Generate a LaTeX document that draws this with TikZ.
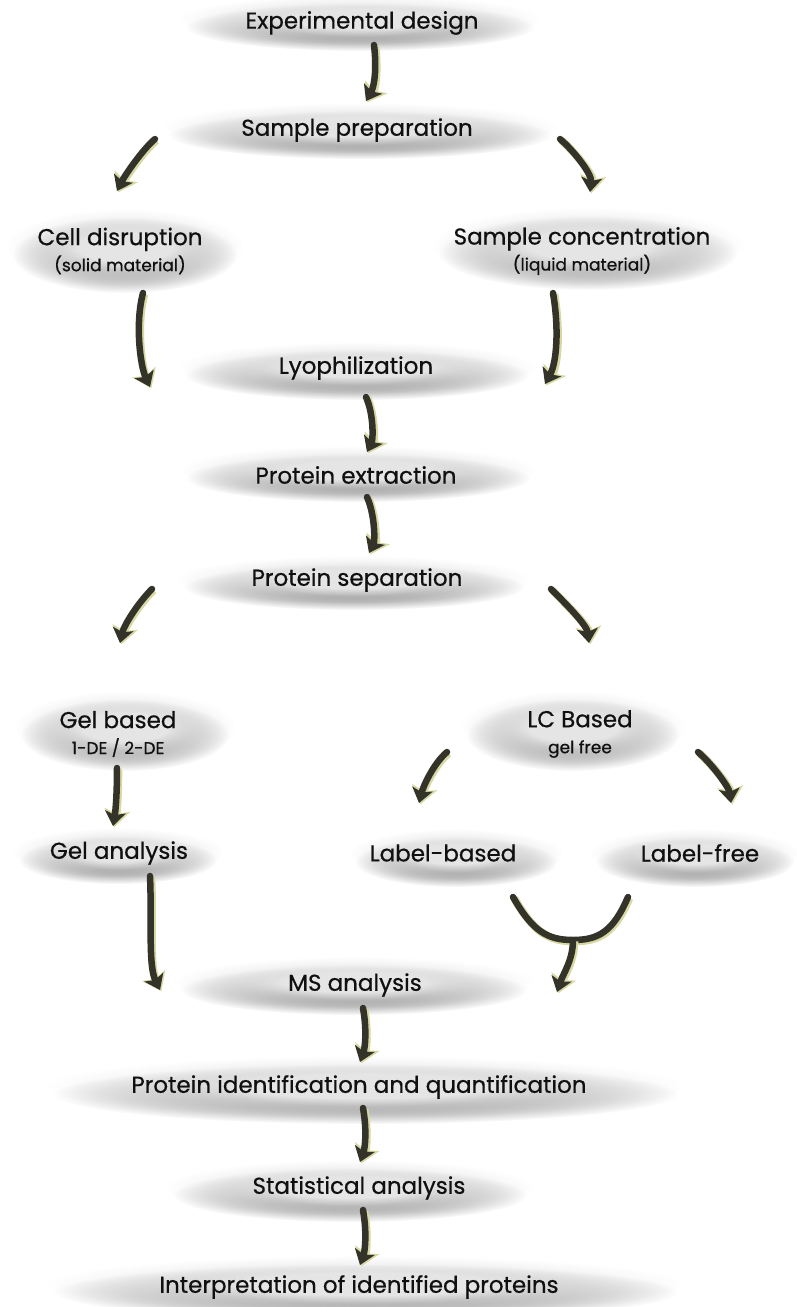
\documentclass[tikz,border=0pt]{standalone}
\usepackage{fontspec}
\setmainfont{Poppins}[FakeBold=0.6]
\usetikzlibrary{arrows.meta,fadings,calc,shapes.geometric}
\definecolor{arrcol}{HTML}{33332A}
\definecolor{glowcol}{HTML}{D8D8A2}
\definecolor{txtcol}{HTML}{101010}
\pgfdeclareradialshading{blobshade}{\pgfpointorigin}{color(0bp)=(pgftransparent!0); color(10bp)=(pgftransparent!0); color(25bp)=(pgftransparent!100); color(50bp)=(pgftransparent!100)}
\pgfdeclarefading{blobfade}{\pgfuseshading{blobshade}}
\tikzset{
  blobsh/.style={fill=black!45, path fading=blobfade},
  blobmn/.style={fill=black!10, path fading=blobfade},
  box/.style={shape=ellipse, inner sep=0pt, align=center, text=txtcol, font=\fontsize{23}{27}\selectfont},
  arrline/.style={draw=arrcol, line width=6.5pt, line cap=round,
    preaction={draw=glowcol, line width=8pt, transform canvas={xshift=1.3pt,yshift=-1.3pt}}},
  arr/.style={arrline, -{Stealth[length=0pt 2.2, width=0pt 3.2, inset=0pt 0.5]}},
}
\newcommand\myblob[4]{%
  \fill[blobsh] (#1,#2+7) ellipse [x radius=#3-6, y radius=#4];
  \fill[blobmn] (#1,#2-1) ellipse [x radius=#3, y radius=#4];}
\newcommand\sub[1]{\\[-1pt]{\fontsize{17}{20}\selectfont #1}}
\begin{document}
\begin{tikzpicture}[x=1pt,y=-1pt]
\fill[white] (0,0) rectangle (796,1307);
\useasboundingbox (0,0) rectangle (796,1307);
% background blobs
\myblob{360}{20}{180}{24}
\myblob{360}{128}{197}{24}
\myblob{125}{248}{118}{38}
\myblob{588}{246}{155}{37}
\myblob{357}{368}{178}{25}
\myblob{358}{471}{178}{24}
\myblob{354}{580}{176}{23}
\myblob{125}{728}{110}{36}
\myblob{573}{728}{112}{36}
\myblob{118}{853}{105}{24}
\myblob{456}{855}{107}{25}
\myblob{695}{855}{105}{25}
\myblob{354}{983}{179}{25}
\myblob{366}{1087}{318}{30}
\myblob{350}{1188}{183}{27}
\myblob{366}{1285}{318}{28}
% nodes
\node[box, minimum width=360, minimum height=48] (ed) at (362,23) {Experimental design};
\node[box, minimum width=394, minimum height=48] (sp) at (357,130) {Sample preparation};
\node[box, minimum width=236, minimum height=76] (cd) at (120,251) {Cell disruption\sub{(solid material)}};
\node[box, minimum width=310, minimum height=74] (sc) at (582,251) {Sample concentration\sub{(liquid material)}};
\node[box, minimum width=356, minimum height=50] (ly) at (356,368) {Lyophilization};
\node[box, minimum width=356, minimum height=48] (pe) at (356,475) {Protein extraction};
\node[box, minimum width=352, minimum height=46] (ps) at (357,580) {Protein separation};
\node[box, minimum width=220, minimum height=72] (gb) at (118,734) {Gel based\sub{1-DE / 2-DE}};
\node[box, minimum width=224, minimum height=72] (lc) at (580,734) {LC Based\sub{gel free}};
\node[box, minimum width=210, minimum height=48] (ga) at (119,853) {Gel analysis};
\node[box, minimum width=214, minimum height=50] (lb) at (443,853) {Label-based};
\node[box, minimum width=210, minimum height=50] (lf) at (700,853) {Label-free};
\node[box, minimum width=358, minimum height=50] (ms) at (355,985) {MS analysis};
\node[box, minimum width=636, minimum height=60] (pi) at (359,1087) {Protein identification and quantification};
\node[box, minimum width=366, minimum height=54] (sa) at (359,1188) {Statistical analysis};
\node[box, minimum width=636, minimum height=56] (ip) at (359,1287) {Interpretation of identified proteins};
% connectors
\draw[arr] ($(ed)+(12,22)$) .. controls +(3,25) and +(8,-14) .. ($(sp)+(9,-29)$);
\draw[arr] ($(sp)+(-202,9)$) .. controls +(-12,10) and +(8,-16) .. ($(cd)+(-3,-60)$);
\draw[arr] ($(sp)+(203,9)$) .. controls +(14,12) and +(2,-18) .. ($(sc)+(8,-59)$);
\draw[arr] ($(cd)+(23,42)$) .. controls +(-8,30) and +(-10,-22) .. ($(ly)+(-206,19)$);
\draw[arr] ($(sc)+(-29,42)$) .. controls +(6,35) and +(12,-22) .. ($(ly)+(189,16)$);
\draw[arr] ($(ly)+(10,29)$) .. controls +(8,18) and +(6,-12) .. ($(pe)+(11,-23)$);
\draw[arr] ($(pe)+(11,22)$) .. controls +(8,18) and +(6,-12) .. ($(ps)+(12,-27)$);
\draw[arr] ($(ps)+(-205,9)$) .. controls +(-14,14) and +(4,-18) .. ($(gb)+(2,-91)$);
\draw[arr] ($(ps)+(194,9)$) .. controls +(14,14) and +(-2,-18) .. ($(lc)+(9,-91)$);
\draw[arr] ($(gb)+(-1,34)$) .. controls +(0,22) and +(3,-18) .. ($(ga)+(-6,-27)$);
\draw[arr] ($(lc)+(-133,18)$) .. controls +(-14,12) and +(4,-16) .. ($(lb)+(-24,-50)$);
\draw[arr] ($(lc)+(118,18)$) .. controls +(14,12) and +(-2,-16) .. ($(lf)+(31,-50)$);
\draw[arr] ($(ga)+(31,23)$) .. controls +(2,45) and +(-12,-25) .. ($(ms)+(-195,5)$);
\coordinate (yj) at (573,940);
\draw[arrline] ($(lb)+(70,44)$) .. controls +(20,35) and +(-25,0) .. (yj) .. controls +(25,0) and +(-15,35) .. ($(lf)+(-72,44)$);
\draw[arr] (yj) .. controls +(0,20) and +(6,-18) .. ($(ms)+(202,7)$);
\draw[arr] ($(ms)+(8,23)$) .. controls +(4,22) and +(5,-14) .. ($(pi)+(1,-25)$);
\draw[arr] ($(pi)+(4,21)$) .. controls +(4,22) and +(5,-14) .. ($(sa)+(1,-26)$);
\draw[arr] ($(sa)+(4,22)$) .. controls +(4,22) and +(5,-14) .. ($(ip)+(1,-22)$);
\end{tikzpicture}
\end{document}
